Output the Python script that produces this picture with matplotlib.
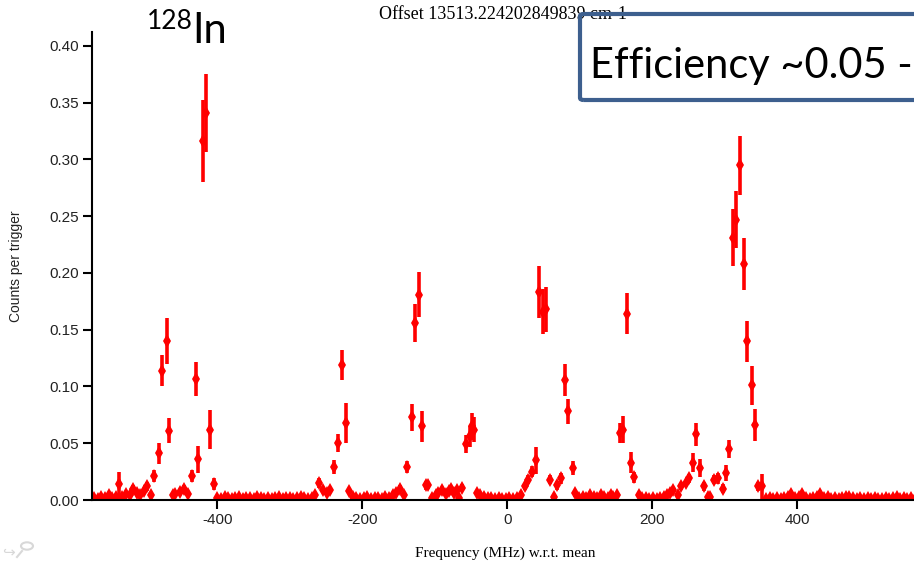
import matplotlib.pyplot as plt
from matplotlib.patches import FancyBboxPatch, Circle
from matplotlib.lines import Line2D

plt.rcParams['axes.unicode_minus'] = False

# channels sitting on the background (error bars too small to see)
base_freq = [-570, -565, -560, -555, -550, -545, -540, -531, -526, -521, -511, -506, -501,
             -491, -461, -458, -451, -441,
             -400, -395, -390, -385, -380, -375, -370, -365, -360, -355, -350, -345, -340, -335,
             -330, -325, -320, -315, -310, -305, -300, -295, -290, -285, -280, -275, -270, -265,
             -254, -249, -245, -218, -213,
             -208, -203, -198, -193, -188, -183, -178, -173, -168, -163, -158, -153,
             -143, -104, -99, -95, -90, -85, -81, -77, -73, -70, -67, -42,
             -37, -32, -27, -22, -17, -12, -7, -2, 3, 8, 13, 19,
             64,
             99, 104, 109, 114, 119, 124, 129, 134, 139, 143,
             146, 151, 181,
             186, 191, 196, 201, 206, 211, 216, 220,
             224, 229, 236, 277, 280,
             357, 362, 367, 372, 377, 382, 387, 392, 397, 402, 407, 412, 417, 422, 427,
             432, 437, 442, 447, 452, 457, 462, 467, 472, 477, 482, 487, 492, 497, 502,
             507, 512, 517, 522, 527, 532, 537, 542, 547, 552, 557, 562, 566]
base_counts = [0.002, 0.001, 0.003, 0.002, 0.004, 0.002, 0.003, 0.003, 0.005, 0.004, 0.006, 0.004, 0.008,
               0.004, 0.004, 0.005, 0.007, 0.005,
               0.002, 0.001, 0.003, 0.002, 0.001, 0.002, 0.003, 0.001, 0.002, 0.002, 0.001, 0.003, 0.002, 0.001,
               0.002, 0.001, 0.002, 0.003, 0.001, 0.002, 0.002, 0.001, 0.002, 0.003, 0.002, 0.001, 0.002, 0.004,
               0.009, 0.006, 0.009, 0.008, 0.003,
               0.002, 0.001, 0.002, 0.003, 0.001, 0.002, 0.002, 0.001, 0.003, 0.002, 0.004, 0.006,
               0.004, 0.002, 0.004, 0.006, 0.009, 0.005, 0.008, 0.010, 0.006, 0.009, 0.002, 0.006,
               0.004, 0.003, 0.002, 0.002, 0.001, 0.002, 0.001, 0.001, 0.002, 0.001, 0.002, 0.004,
               0.003,
               0.002, 0.003, 0.002, 0.004, 0.003, 0.002, 0.004, 0.003, 0.002, 0.004,
               0.003, 0.004, 0.004,
               0.002, 0.002, 0.001, 0.002, 0.001, 0.002, 0.003, 0.004,
               0.006, 0.009, 0.004, 0.003, 0.003,
               0.001, 0.002, 0.001, 0.002, 0.001, 0.002, 0.003, 0.005, 0.002, 0.003, 0.005, 0.002, 0.001, 0.002, 0.003,
               0.005, 0.002, 0.003, 0.001, 0.002, 0.001, 0.002, 0.003, 0.003, 0.002, 0.001, 0.002, 0.001, 0.002, 0.001,
               0.002, 0.001, 0.001, 0.002, 0.001, 0.002, 0.003, 0.001, 0.002, 0.001, 0.002, 0.001, 0.002]

# channels on the hyperfine components
peak_freq = [-536, -516, -497, -487, -481, -476, -470, -466, -446, -435, -430, -426, -420, -415, -410, -405,
             -260, -239, -234, -228, -223,
             -148, -139, -132, -127, -122, -117, -112, -109,
             -62, -57, -52, -49, -46,
             24, 29, 34, 39, 44, 49, 53, 59, 68, 74, 80, 84, 90, 94,
             155, 160, 165, 170, 175,
             240, 246, 251, 256, 260, 266, 271, 285, 291, 297, 302, 306,
             311, 315, 321, 326, 331, 337, 341, 346, 352]
peak_counts = [0.014, 0.010, 0.012, 0.021, 0.041, 0.114, 0.140, 0.061, 0.010, 0.021, 0.107, 0.036, 0.316, 0.341, 0.062, 0.014,
               0.015, 0.029, 0.050, 0.119, 0.068,
               0.010, 0.029, 0.073, 0.156, 0.181, 0.065, 0.013, 0.013,
               0.011, 0.049, 0.056, 0.065, 0.062,
               0.012, 0.018, 0.025, 0.035, 0.183, 0.166, 0.168, 0.018, 0.013, 0.019, 0.106, 0.078, 0.028, 0.006,
               0.059, 0.062, 0.164, 0.033, 0.020,
               0.012, 0.015, 0.019, 0.033, 0.058, 0.028, 0.012, 0.018, 0.019, 0.010, 0.024, 0.045,
               0.231, 0.247, 0.295, 0.208, 0.140, 0.101, 0.066, 0.012, 0.012]
peak_err = [0.011, 0.003, 0.004, 0.005, 0.009, 0.014, 0.020, 0.011, 0.003, 0.005, 0.015, 0.012, 0.036, 0.034, 0.017, 0.005,
            0.004, 0.006, 0.008, 0.0135, 0.0175,
            0.003, 0.005, 0.012, 0.017, 0.020, 0.0135, 0.004, 0.003,
            0.003, 0.008, 0.009, 0.012, 0.011,
            0.003, 0.004, 0.005, 0.012, 0.023, 0.020, 0.020, 0.004, 0.004, 0.005, 0.014, 0.011, 0.006, 0.003,
            0.009, 0.012, 0.018, 0.009, 0.005,
            0.003, 0.003, 0.004, 0.008, 0.010, 0.008, 0.004, 0.004, 0.005, 0.004, 0.007, 0.008,
            0.025, 0.025, 0.026, 0.023, 0.018, 0.017, 0.014, 0.004, 0.011]

x_ticks = [-400, -200, 0, 200, 400]
y_ticks = [0.00, 0.05, 0.10, 0.15, 0.20, 0.25, 0.30, 0.35, 0.40]

title = 'Offset 13513.224202849839 cm-1'
x_label = 'Frequency (MHz) w.r.t. mean'
y_label = 'Counts per trigger'
isotope_mass = '128'
isotope_name = 'In'
note = 'Efficiency ~0.05 -'

W, H = 914, 562
fig = plt.figure(figsize=(W / 100, H / 100), dpi=100)
ax = fig.add_axes([91.7 / W, 1 - 500 / H, (918 - 91.7) / W, (500 - 32) / H])

ax.plot(base_freq, base_counts, 'd', color='red', ms=7, mew=0)
ax.errorbar(peak_freq, peak_counts, yerr=peak_err, fmt='d', color='red',
            ms=7, mew=0, elinewidth=2.6, capsize=0)

ax.set_xlim(-573.2, 566.5)
ax.set_ylim(0, 0.4123)
ax.set_xticks(x_ticks)
ax.set_yticks(y_ticks)
ax.set_yticklabels(['%.2f' % v for v in y_ticks])
for s in ['top', 'right']:
    ax.spines[s].set_visible(False)
for s in ['left', 'bottom']:
    ax.spines[s].set_linewidth(1.5)
ax.tick_params(direction='out', length=6.5, width=1.5, pad=3, labelsize=11, labelcolor='#222222')
for lab in ax.get_xticklabels() + ax.get_yticklabels():
    lab.set_fontfamily('Liberation Sans')

# labels and title
fig.text(503 / W, 1 - 19 / H, title, family='Liberation Serif', fontsize=13,
         ha='center', va='baseline', zorder=1)
fig.text(505 / W, 1 - 557 / H, x_label, family='Liberation Serif', fontsize=11,
         ha='center', va='baseline')
fig.text(16 / W, 1 - 266 / H, y_label, family='Liberation Sans', fontsize=10,
         rotation=90, ha='center', va='center', color='#222222')

# isotope tag
fig.text(147 / W, 1 - 29 / H, isotope_mass, family='Lato', fontsize=19, va='baseline')
fig.text(192 / W, 1 - 43 / H, isotope_name, family='Lato', fontsize=30, va='baseline')

# efficiency box, running off the right edge
box = FancyBboxPatch((580 / W, 1 - 100 / H), (1000 - 580) / W, 86 / H,
                     boxstyle='round,pad=0,rounding_size=0.004', transform=fig.transFigure,
                     fc='none', ec='#3d5f8e', lw=3, zorder=3)
fig.add_artist(box)
fig.text(590 / W, 1 - 78 / H, note, family='Lato', fontsize=30, va='baseline', zorder=4)

# faint zoom icon in the corner
fig.text(2 / W, 1 - 556 / H, '\u21aa', fontsize=11, color='#d8d8d8', va='baseline')
fig.add_artist(Circle((27 / W, 1 - 546 / H), 6 / W, transform=fig.transFigure,
                      fc='none', ec='#d8d8d8', lw=1.5))
fig.add_artist(Line2D([22 / W, 17 / W], [1 - 551 / H, 1 - 557 / H], transform=fig.transFigure,
                      color='#d8d8d8', lw=1.5))

fig.savefig('out.png', dpi=100)
